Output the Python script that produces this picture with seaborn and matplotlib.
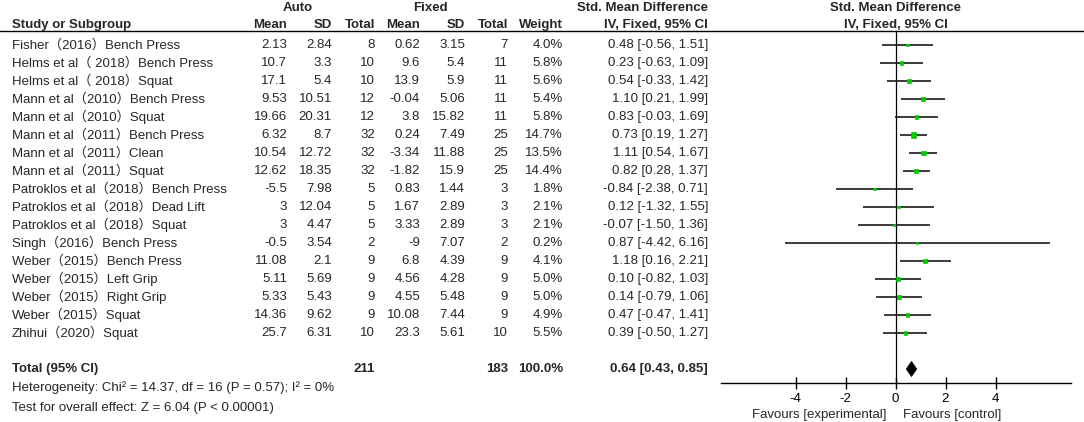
import numpy as np
import pandas as pd
import seaborn as sns
import matplotlib.pyplot as plt
from matplotlib.patches import Polygon

# data
studies = [
    'Fisher（2016）Bench Press',
    'Helms et al（ 2018）Bench Press',
    'Helms et al（ 2018）Squat',
    'Mann et al（2010）Bench Press',
    'Mann et al（2010）Squat',
    'Mann et al（2011）Bench Press',
    'Mann et al（2011）Clean',
    'Mann et al（2011）Squat',
    'Patroklos et al（2018）Bench Press',
    'Patroklos et al（2018）Dead Lift',
    'Patroklos et al（2018）Squat',
    'Singh（2016）Bench Press',
    'Weber（2015）Bench Press',
    'Weber（2015）Left Grip',
    'Weber（2015）Right Grip',
    'Weber（2015）Squat',
    'Zhihui（2020）Squat',
]
auto_mean = [2.13, 10.7, 17.1, 9.53, 19.66, 6.32, 10.54, 12.62, -5.5, 3, 3, -0.5, 11.08, 5.11, 5.33, 14.36, 25.7]
auto_sd = [2.84, 3.3, 5.4, 10.51, 20.31, 8.7, 12.72, 18.35, 7.98, 12.04, 4.47, 3.54, 2.1, 5.69, 5.43, 9.62, 6.31]
auto_n = [8, 10, 10, 12, 12, 32, 32, 32, 5, 5, 5, 2, 9, 9, 9, 9, 10]
fixed_mean = [0.62, 9.6, 13.9, -0.04, 3.8, 0.24, -3.34, -1.82, 0.83, 1.67, 3.33, -9, 6.8, 4.56, 4.55, 10.08, 23.3]
fixed_sd = [3.15, 5.4, 5.9, 5.06, 15.82, 7.49, 11.88, 15.9, 1.44, 2.89, 2.89, 7.07, 4.39, 4.28, 5.48, 7.44, 5.61]
fixed_n = [7, 11, 11, 11, 11, 25, 25, 25, 3, 3, 3, 2, 9, 9, 9, 9, 10]
weight = [4.0, 5.8, 5.6, 5.4, 5.8, 14.7, 13.5, 14.4, 1.8, 2.1, 2.1, 0.2, 4.1, 5.0, 5.0, 4.9, 5.5]
smd = [0.48, 0.23, 0.54, 1.10, 0.83, 0.73, 1.11, 0.82, -0.84, 0.12, -0.07, 0.87, 1.18, 0.10, 0.14, 0.47, 0.39]
ci_low = [-0.56, -0.63, -0.33, 0.21, -0.03, 0.19, 0.54, 0.28, -2.38, -1.32, -1.50, -4.42, 0.16, -0.82, -0.79, -0.47, -0.50]
ci_high = [1.51, 1.09, 1.42, 1.99, 1.69, 1.27, 1.67, 1.37, 0.71, 1.55, 1.36, 6.16, 2.21, 1.03, 1.06, 1.41, 1.27]

total_auto = 211
total_fixed = 183
total_weight = 100.0
total_smd, total_low, total_high = 0.64, 0.43, 0.85
heterogeneity = 'Heterogeneity: Chi² = 14.37, df = 16 (P = 0.57); I² = 0%'
overall_test = 'Test for overall effect: Z = 6.04 (P < 0.00001)'
xticks = [-4, -2, 0, 2, 4]

sns.set_theme(style='white')
plt.rcParams['font.family'] = ['Liberation Sans', 'Noto Sans CJK SC', 'DejaVu Sans']
plt.rcParams['axes.unicode_minus'] = False

W, H = 1084, 422
row0, step = 45, 18          # pixel y of first row, row spacing
fs = 9.5

fig = plt.figure(figsize=(W / 100, H / 100), dpi=100)

# text table, x in pixels, y in row units
tab = fig.add_axes([0, 0, 1, 1])
tab.set_xlim(0, W)
tab.set_ylim((H - row0) / step, -row0 / step)
tab.axis('off')

def r(py):
    return (py - row0) / step

cols = {'am': 287, 'asd': 332, 'an': 375, 'fm': 420, 'fsd': 465, 'fn': 508, 'w': 563, 'ci': 708}

# headers
tab.text(298, r(8), 'Auto', ha='center', va='center', fontsize=fs, fontweight='bold')
tab.text(430, r(8), 'Fixed', ha='center', va='center', fontsize=fs, fontweight='bold')
tab.text(cols['ci'], r(8), 'Std. Mean Difference', ha='right', va='center', fontsize=fs, fontweight='bold')
tab.text(896, r(8), 'Std. Mean Difference', ha='center', va='center', fontsize=fs, fontweight='bold')
tab.text(12, r(25), 'Study or Subgroup', ha='left', va='center', fontsize=fs, fontweight='bold')
for key, lab in [('am', 'Mean'), ('asd', 'SD'), ('an', 'Total'), ('fm', 'Mean'),
                 ('fsd', 'SD'), ('fn', 'Total'), ('w', 'Weight'), ('ci', 'IV, Fixed, 95% CI')]:
    tab.text(cols[key], r(25), lab, ha='right', va='center', fontsize=fs, fontweight='bold')
tab.text(896, r(25), 'IV, Fixed, 95% CI', ha='center', va='center', fontsize=fs, fontweight='bold')
tab.axhline(r(31), color='black', lw=1.0)

# study rows
for i, name in enumerate(studies):
    tab.text(12, i, name, ha='left', va='center', fontsize=fs)
    vals = [('am', f'{auto_mean[i]:g}'), ('asd', f'{auto_sd[i]:g}'), ('an', f'{auto_n[i]}'),
            ('fm', f'{fixed_mean[i]:g}'), ('fsd', f'{fixed_sd[i]:g}'), ('fn', f'{fixed_n[i]}'),
            ('w', f'{weight[i]:.1f}%'),
            ('ci', f'{smd[i]:.2f} [{ci_low[i]:.2f}, {ci_high[i]:.2f}]')]
    for key, txt in vals:
        tab.text(cols[key], i, txt, ha='right', va='center', fontsize=fs)

# total row
tr = r(369)
tab.text(12, tr, 'Total (95% CI)', ha='left', va='center', fontsize=fs, fontweight='bold')
tab.text(cols['an'], tr, f'{total_auto}', ha='right', va='center', fontsize=fs, fontweight='bold')
tab.text(cols['fn'], tr, f'{total_fixed}', ha='right', va='center', fontsize=fs, fontweight='bold')
tab.text(cols['w'], tr, f'{total_weight:.1f}%', ha='right', va='center', fontsize=fs, fontweight='bold')
tab.text(cols['ci'], tr, f'{total_smd:.2f} [{total_low:.2f}, {total_high:.2f}]',
         ha='right', va='center', fontsize=fs, fontweight='bold')
tab.text(12, r(388), heterogeneity, ha='left', va='center', fontsize=fs)
tab.text(12, r(408), overall_test, ha='left', va='center', fontsize=fs)

tab.text(887, r(415), 'Favours [experimental]', ha='right', va='center', fontsize=fs)
tab.text(903, r(415), 'Favours [control]', ha='left', va='center', fontsize=fs)

# forest panel
ax = fig.add_axes([720.5 / W, (H - 383) / H, 350 / W, (383 - 31) / H])
ax.set_facecolor('none')

df = pd.DataFrame({'smd': smd, 'row': np.arange(len(studies)), 'weight': weight})
ax.hlines(df['row'], ci_low, ci_high, color='#1a1a1a', lw=1.2, zorder=2)
sns.scatterplot(data=df, x='smd', y='row', size='weight', sizes=(1.6, 13), marker='s',
                color='#00cc00', edgecolor='#00cc00', linewidth=0.5, legend=False, ax=ax, zorder=3)

h = 0.42
diamond = Polygon([(total_low, tr), (total_smd, tr - h), (total_high, tr), (total_smd, tr + h)],
                  closed=True, facecolor='black', edgecolor='black', lw=0.5)
ax.add_patch(diamond)

ax.axvline(0, color='black', lw=0.9, zorder=1)
ax.set_xlim(-7, 7)
ax.set_ylim(r(383), r(31))
ax.set_xticks(xticks)
ax.set_xticklabels([str(t) for t in xticks])
ax.set_yticks([])
ax.set_xlabel('')
ax.set_ylabel('')
for s in ['left', 'right', 'top']:
    ax.spines[s].set_visible(False)
ax.spines['bottom'].set_color('black')
ax.spines['bottom'].set_linewidth(1.0)
ax.tick_params(axis='x', direction='inout', length=8, width=1.0, pad=3,
               labelsize=fs, colors='black', bottom=True)

fig.savefig('out.png', dpi=100, facecolor='white')
